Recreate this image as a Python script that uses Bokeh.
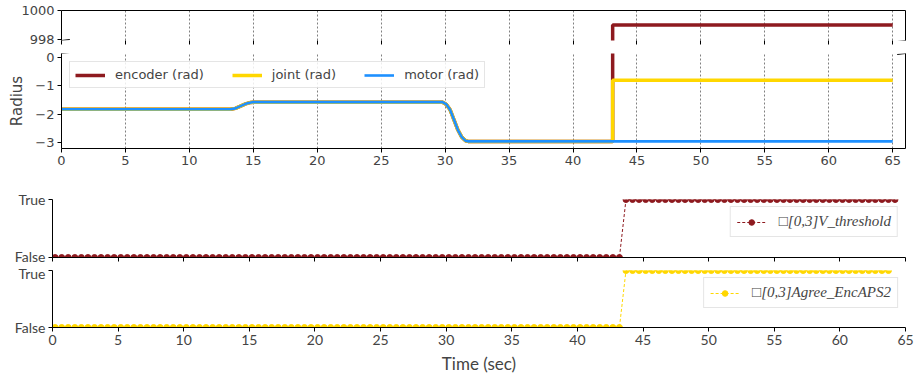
from bokeh.plotting import figure
from bokeh.models import (Range1d, LinearAxis, FixedTicker, SingleIntervalTicker,
                          Legend, LegendItem, Arrow)
from bokeh.layouts import column
from bokeh.embed import file_html
from bokeh.resources import INLINE

# ---------------- data ----------------
t_sig = [0.0, 13.2, 13.6, 14.0, 14.4, 14.8, 15.0, 29.8, 30.1, 30.4, 30.7, 31.0,
         31.3, 31.6, 31.8, 43.1, 43.1, 65.0]
motor = [-1.82, -1.82, -1.79, -1.71, -1.63, -1.58, -1.57, -1.57, -1.65, -1.85,
         -2.20, -2.55, -2.80, -2.93, -2.95, -2.95, -2.95, -2.95]
encoder = motor[:16] + [999.0, 999.0]
joint = motor[:16] + [-0.80, -0.80]

x_ticks = [0, 5, 10, 15, 20, 25, 30, 35, 40, 45, 50, 55, 60, 65]
radius_ticks = [-3, -2, -1, 0]
radius_labels = {-3: "\u22123", -2: "\u22122", -1: "\u22121", 0: "0"}
upper_ticks = [998, 1000]
bool_labels = {0: "False", 1: "True"}

# sampled boolean monitors (0.5 s sample period)
t_vthr = [round(0.2 + 0.5 * k, 2) for k in range(129)]
v_thr = [0] * 87 + [1] * 42
t_agree = [round(0.2 + 0.5 * k, 2) for k in range(128)]
agree = [0] * 87 + [1] * 41

label_vthr = "\u25a1[0,3]V_threshold"
label_agree = "\u25a1[0,3]Agree_EncAPS2"

C_ENC = "#8e1a1f"
C_JOINT = "#ffd700"
C_MOTOR = "#1e90ff"

W = 914
xr_top = Range1d(0, 66)
xr_bot = Range1d(0, 65)
FONT = "DejaVu Sans"
BFONT = "Lato"
A_LOW = 997.93
B_HIGH = 0.14


def spine_axis():
    ax = LinearAxis(ticker=FixedTicker(ticks=[]))
    ax.axis_line_color = "black"
    ax.axis_line_width = 1
    ax.major_tick_out = 0
    ax.major_tick_in = 0
    ax.minor_tick_out = 0
    ax.minor_tick_in = 0
    ax.major_label_text_color = None
    ax.major_label_text_font_size = "1px"
    ax.major_label_standoff = 0
    return ax


def hide_labels(ax):
    ax.major_label_text_color = None
    ax.major_label_text_font_size = "1px"
    ax.major_label_standoff = 0


def base(p):
    p.outline_line_color = None
    p.background_fill_color = "white"
    p.border_fill_color = "white"
    p.ygrid.grid_line_color = None


def draw_lines(p):
    r1 = p.line(t_sig, encoder, line_color=C_ENC, line_width=3.5)
    r2 = p.line(t_sig, joint, line_color=C_JOINT, line_width=3.5)
    r3 = p.line(t_sig, motor, line_color=C_MOTOR, line_width=2.6)
    return r1, r2, r3


# ---------------- figure A (upper broken part) ----------------
pa = figure(width=W, height=46, x_range=xr_top, y_range=Range1d(A_LOW, 1000),
            output_backend="svg", toolbar_location=None, frame_align=False,
            min_border_top=10, min_border_bottom=6, min_border_left=61, min_border_right=9)
base(pa)
pa.xgrid.ticker = FixedTicker(ticks=x_ticks)
pa.xgrid.grid_line_color = "#808080"
pa.xgrid.grid_line_dash = "2 2"
pa.xgrid.grid_line_width = 1
draw_lines(pa)
pa.xaxis.ticker = FixedTicker(ticks=x_ticks)
pa.xaxis.axis_line_color = None
hide_labels(pa.xaxis[0])
pa.xaxis.major_tick_out = 4
pa.xaxis.major_tick_in = 0
pa.xaxis.minor_tick_out = 0
pa.yaxis.ticker = FixedTicker(ticks=upper_ticks)
pa.yaxis.major_label_text_font = FONT
pa.yaxis.major_label_text_font_size = "13px"
pa.yaxis.major_tick_out = 4
pa.yaxis.major_tick_in = 0
pa.yaxis.minor_tick_out = 0
pa.yaxis.major_label_standoff = 3
pa.add_layout(spine_axis(), "above")
pa.add_layout(spine_axis(), "right")
for xb in (0, 66):
    pa.add_layout(Arrow(end=None, x_start=xb - 0.65, y_start=A_LOW - 0.07,
                        x_end=xb + 0.65, y_end=A_LOW + 0.07,
                        line_color="black", line_width=1))

# ---------------- figure B (main radius) ----------------
pb = figure(width=W, height=139, x_range=xr_top, y_range=Range1d(-3.2, B_HIGH),
            output_backend="svg", toolbar_location=None, frame_align=False,
            min_border_top=7, min_border_bottom=37, min_border_left=61, min_border_right=9)
base(pb)
pb.xgrid.ticker = FixedTicker(ticks=x_ticks)
pb.xgrid.grid_line_color = "#808080"
pb.xgrid.grid_line_dash = "2 2"
pb.xgrid.grid_line_width = 1
r_enc, r_joint, r_motor = draw_lines(pb)
pb.xaxis.ticker = FixedTicker(ticks=x_ticks)
pb.xaxis.axis_line_color = "black"
pb.xaxis.major_label_text_font = FONT
pb.xaxis.major_label_text_font_size = "13px"
pb.xaxis.major_tick_out = 4
pb.xaxis.major_tick_in = 0
pb.xaxis.minor_tick_out = 0
pb.xaxis.major_label_standoff = 3
pb.yaxis.ticker = FixedTicker(ticks=radius_ticks)
pb.yaxis.major_label_overrides = radius_labels
pb.yaxis.major_label_text_font = FONT
pb.yaxis.major_label_text_font_size = "13px"
pb.yaxis.major_tick_out = 4
pb.yaxis.major_tick_in = 0
pb.yaxis.minor_tick_out = 0
pb.yaxis.major_label_standoff = 3
pb.yaxis.axis_label = "Radius"
pb.yaxis.axis_label_text_font = FONT
pb.yaxis.axis_label_text_font_size = "15px"
pb.yaxis.axis_label_text_font_style = "normal"
pb.yaxis.axis_label_standoff = 6
pb.add_layout(spine_axis(), "right")
for xb in (0, 66):
    pb.add_layout(Arrow(end=None, x_start=xb - 0.65, y_start=B_HIGH - 0.035,
                        x_end=xb + 0.65, y_end=B_HIGH + 0.035,
                        line_color="black", line_width=1))
leg_b = Legend(items=[LegendItem(label="encoder (rad)", renderers=[r_enc]),
                      LegendItem(label="joint (rad)", renderers=[r_joint]),
                      LegendItem(label="motor (rad)", renderers=[r_motor])],
               orientation="horizontal", location="top_left")
leg_b.margin = 8
leg_b.padding = 5
leg_b.spacing = 28
leg_b.glyph_width = 30
leg_b.glyph_height = 14
leg_b.label_height = 14
leg_b.label_standoff = 10
leg_b.label_text_font = FONT
leg_b.label_text_font_size = "13px"
leg_b.border_line_color = "#cccccc"
leg_b.background_fill_alpha = 0.85
pb.add_layout(leg_b)


# ---------------- boolean panels ----------------
def bool_panel(height, mtop, mbot, t, v, color, label, show_xlabels):
    p = figure(width=W, height=height, x_range=xr_bot, y_range=Range1d(0, 1),
               output_backend="svg", toolbar_location=None, frame_align=False,
               min_border_top=mtop, min_border_bottom=mbot,
               min_border_left=52, min_border_right=9)
    base(p)
    p.xgrid.grid_line_color = None
    rl = p.line(t, v, line_color=color, line_width=1, line_dash="3 2")
    rs = p.scatter(t, v, size=6, fill_color=color, line_color=color, marker="circle")
    p.xaxis.ticker = SingleIntervalTicker(interval=5, num_minor_ticks=0)
    p.xaxis.axis_line_color = "black"
    p.xaxis.major_tick_out = 4
    p.xaxis.major_tick_in = 0
    p.xaxis.minor_tick_out = 0
    if show_xlabels:
        p.xaxis.major_label_text_font = BFONT
        p.xaxis.major_label_text_font_size = "14px"
        p.xaxis.major_label_standoff = 3
        p.xaxis.axis_label = "Time (sec)"
        p.xaxis.axis_label_text_font = BFONT
        p.xaxis.axis_label_text_font_size = "17px"
        p.xaxis.axis_label_text_font_style = "normal"
        p.xaxis.axis_label_standoff = 5
    else:
        hide_labels(p.xaxis[0])
    p.yaxis.ticker = FixedTicker(ticks=[0, 1])
    p.yaxis.major_label_overrides = bool_labels
    p.yaxis.major_label_text_font = BFONT
    p.yaxis.major_label_text_font_size = "14px"
    p.yaxis.major_tick_out = 4
    p.yaxis.major_tick_in = 0
    p.yaxis.minor_tick_out = 0
    p.yaxis.major_label_standoff = 3
    leg = Legend(items=[LegendItem(label=label, renderers=[rl, rs])], location="top_right")
    leg.margin = 7
    leg.padding = 6
    leg.glyph_width = 29
    leg.glyph_height = 14
    leg.label_height = 14
    leg.label_standoff = 13
    leg.label_text_font = "Liberation Serif"
    leg.label_text_font_style = "italic"
    leg.label_text_font_size = "15px"
    leg.border_line_color = "#cccccc"
    leg.background_fill_alpha = 0.85
    p.add_layout(leg)
    return p


pc = bool_panel(79, 14, 7, t_vthr, v_thr, C_ENC, label_vthr, False)
pd_ = bool_panel(114, 6, 51, t_agree, agree, C_JOINT, label_agree, True)

layout = column(pa, pb, pc, pd_, spacing=0)
open("out.html", "w").write(file_html(layout, INLINE))
